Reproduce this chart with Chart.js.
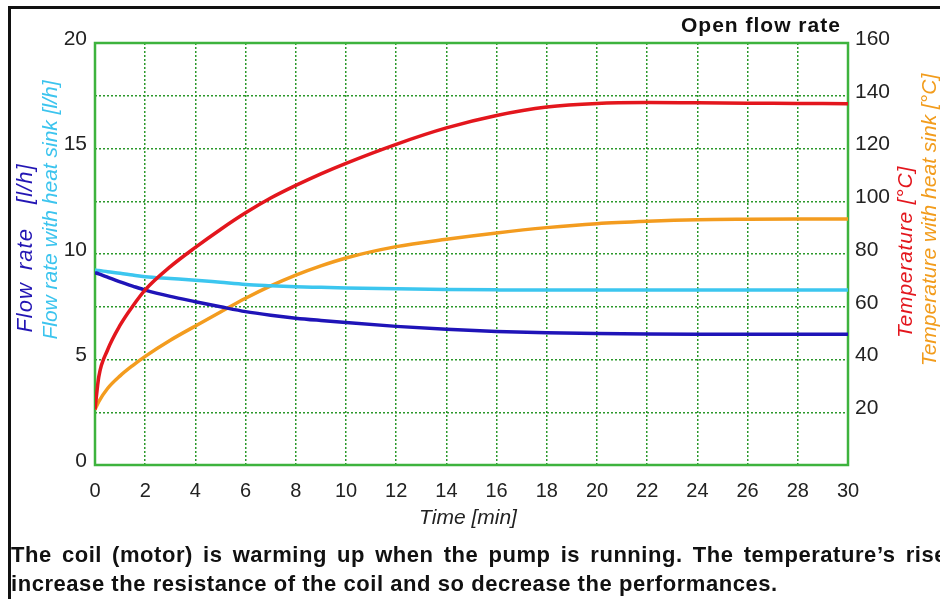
<!DOCTYPE html>
<html>
<head>
<meta charset="utf-8">
<script src="https://cdn.jsdelivr.net/npm/chart.js@4.4.1/dist/chart.umd.min.js"></script>
<style>
  body { margin: 0; width: 940px; height: 599px; overflow: hidden; background: #fff; position: relative; font-family: "Liberation Sans", Arial, sans-serif; }
  #frame { position: absolute; left: 8px; top: 6px; width: 1000px; height: 700px; border-top: 3px solid #111; border-left: 3px solid #111; }
  #wrap { position: absolute; left: 0; top: 0; width: 940px; height: 599px; }
  .vt { position: absolute; white-space: nowrap; font-style: italic; font-size: 21px; transform: translate(-50%, -50%) rotate(-90deg); }
  .cap { position: absolute; left: 11px; font-weight: bold; font-size: 22px; letter-spacing: 0.55px; color: #111; white-space: nowrap; }
</style>
</head>
<body>
<div id="frame"></div>
<div id="wrap"><canvas id="chart" width="940" height="599"></canvas></div>

<div style="position:absolute; left:681px; top:13px; font-weight:bold; font-size:21px; letter-spacing:1px; color:#111;">Open flow rate</div>
<div class="vt" style="left:25px; top:248px; color:#2316b4; font-size:22px; letter-spacing:1px; word-spacing:5px;">Flow rate&nbsp; [l/h]</div>
<div class="vt" style="left:50px; top:210px; color:#3cc4ee;">Flow rate with heat sink [l/h]</div>
<div class="vt" style="left:905px; top:252px; color:#e3161d; letter-spacing:0.8px;">Temperature [°C]</div>
<div class="vt" style="left:929px; top:220px; color:#f29c1c;">Temperature with heat sink [°C]</div>
<div style="position:absolute; left:468px; top:517px; transform:translate(-50%,-50%); font-style:italic; font-size:21px; color:#222;">Time [min]</div>
<div class="cap" style="top:542px; width:936px; text-align:justify; text-align-last:justify; white-space:normal;">The coil (motor) is warming up when the pump is running. The temperature’s rise</div>
<div class="cap" style="top:571px;">increase the resistance of the coil and so decrease the performances.</div>

<script>
// temps en minutes
const times = [0, 0.15, 0.5, 1, 1.5, 2, 3, 4, 5, 6, 7, 8, 9, 10, 12, 14, 16, 18, 20, 22, 24, 26, 28, 30];

// débit (axe gauche, l/h)
const flowRate = [9.12, 9.06, 8.90, 8.68, 8.48, 8.29, 7.99, 7.74, 7.50, 7.27, 7.10, 6.96, 6.85, 6.75, 6.57, 6.43, 6.33, 6.27, 6.23, 6.21, 6.20, 6.20, 6.20, 6.20];
const flowRateSink = [9.24, 9.22, 9.16, 9.09, 9.00, 8.92, 8.84, 8.76, 8.66, 8.56, 8.50, 8.45, 8.42, 8.39, 8.35, 8.32, 8.30, 8.29, 8.29, 8.29, 8.29, 8.29, 8.29, 8.29];

// température (axe droit, °C)
const temperature = [21, 33.4, 43.6, 53, 60.2, 66.4, 75.2, 82.5, 89.3, 95.6, 101.2, 106, 110.4, 114.4, 121.6, 127.8, 132.5, 135.7, 137.1, 137.4, 137.3, 137.2, 137.1, 137];
const temperatureSink = [21, 24, 29, 33.8, 37.7, 41.2, 47.3, 52.7, 58, 63.2, 67.9, 72, 75.5, 78.5, 82.8, 85.6, 88, 90, 91.5, 92.4, 93, 93.2, 93.3, 93.3];

const xTicks = { min: 0, max: 30, step: 2 };
const flowTicks = { min: 0, max: 20, step: 2.5 };
const tempTicks = { min: 0, max: 160, step: 20 };

const gridGreen = '#2b982b';
const frameGreen = '#3db33d';
const tickFont = { family: '"Liberation Sans", Arial, sans-serif', size: 20 };

const pts = (vals) => times.map((t, i) => ({ x: t, y: vals[i] }));

// cadre vert autour de la zone de tracé
const plotFrame = {
  id: 'plotFrame',
  beforeDatasetsDraw(chart) {
    const { ctx, chartArea: a } = chart;
    ctx.save();
    ctx.strokeStyle = frameGreen;
    ctx.lineWidth = 2.5;
    ctx.strokeRect(a.left, a.top, a.right - a.left, a.bottom - a.top);
    ctx.restore();
  }
};

const line = (vals, color, axis) => ({
  data: pts(vals),
  borderColor: color,
  borderWidth: 3.5,
  pointRadius: 0,
  cubicInterpolationMode: 'monotone',
  yAxisID: axis,
  fill: false
});

new Chart(document.getElementById('chart'), {
  type: 'line',
  data: {
    datasets: [
      line(temperature, '#e3161d', 'yT'),
      line(flowRate, '#1f14b8', 'yF'),
      line(flowRateSink, '#3cc6ef', 'yF'),
      line(temperatureSink, '#f39c1f', 'yT')
    ]
  },
  options: {
    responsive: false,
    animation: false,
    layout: { padding: { top: 43, left: 0, right: 0, bottom: 0 } },
    plugins: { legend: { display: false }, tooltip: { enabled: false } },
    scales: {
      x: {
        type: 'linear',
        min: xTicks.min, max: xTicks.max,
        ticks: { stepSize: xTicks.step, padding: 14, color: '#222', font: tickFont, maxRotation: 0 },
        grid: { color: gridGreen, lineWidth: 1.5, drawTicks: false },
        border: { display: false, dash: [2, 2] },
        afterFit: (s) => { s.height = 134; }
      },
      yF: {
        position: 'left',
        min: flowTicks.min, max: flowTicks.max,
        ticks: {
          stepSize: flowTicks.step, padding: 8, labelOffset: -4, color: '#222', font: { ...tickFont, size: 21 },
          callback: (v) => (v % 5 === 0 ? v : '')
        },
        grid: { color: gridGreen, lineWidth: 1.5, drawTicks: false },
        border: { display: false, dash: [2, 2] },
        afterFit: (s) => { s.width = 95; }
      },
      yT: {
        position: 'right',
        min: tempTicks.min, max: tempTicks.max,
        ticks: {
          stepSize: tempTicks.step, padding: 7, labelOffset: -4, color: '#222', font: { ...tickFont, size: 21 },
          callback: (v) => (v === 0 ? '' : v)
        },
        grid: { display: false, drawTicks: false },
        border: { display: false },
        afterFit: (s) => { s.width = 92; }
      }
    }
  },
  plugins: [plotFrame]
});
</script>
</body>
</html>
